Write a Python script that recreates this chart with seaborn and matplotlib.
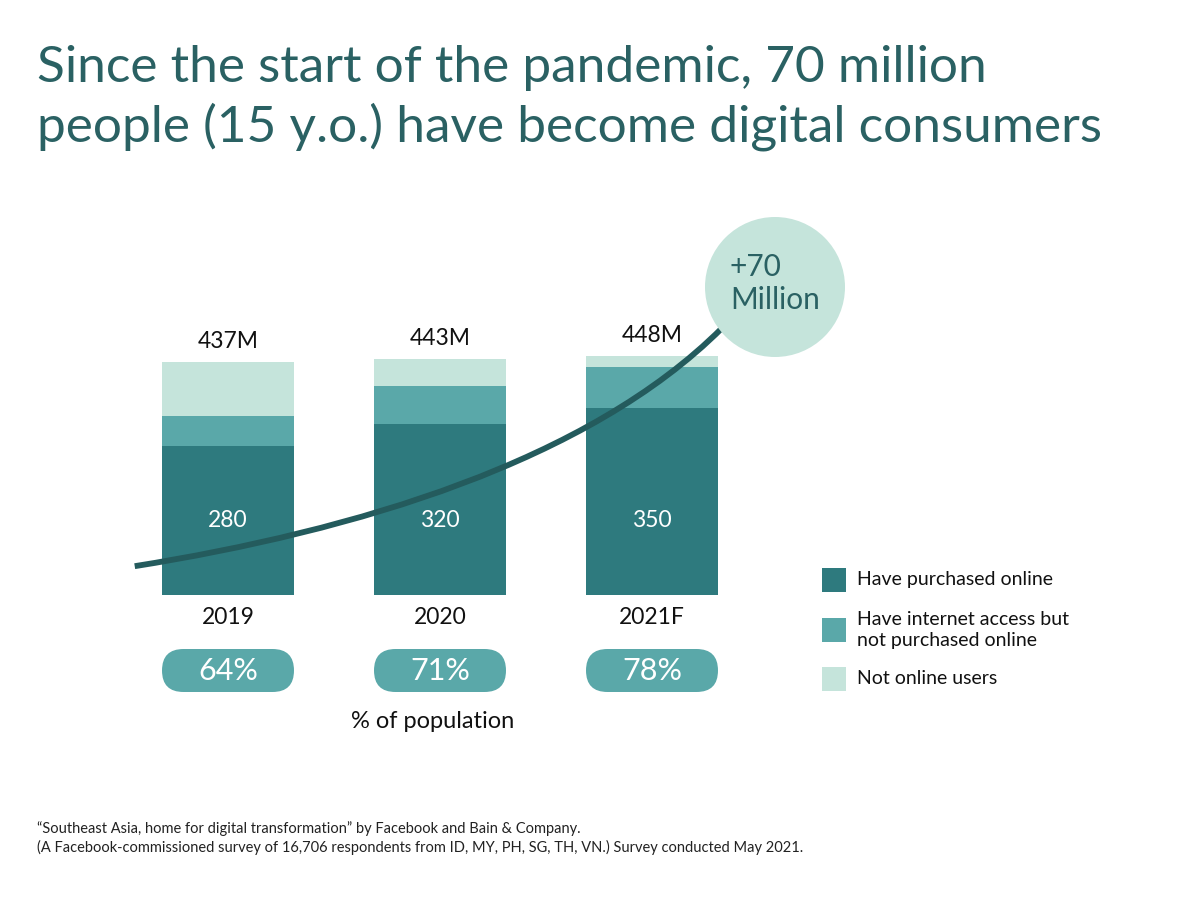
import numpy as np
import matplotlib
matplotlib.use("Agg")
import matplotlib.pyplot as plt
from matplotlib.patches import FancyBboxPatch, Circle, Rectangle, PathPatch
from matplotlib.path import Path
import seaborn as sns

# data (millions)
years = ["2019", "2020", "2021F"]
purchased = [280, 320, 350]
access_only = [56, 71, 77]
not_online = [101, 52, 21]
totals = [437, 443, 448]
share_pct = ["64%", "71%", "78%"]

# decorative growth curve as a cubic bezier (x in bar units, y in millions)
curve_ctrl = [(-0.44, 54), (0.6, 120), (1.7, 250), (2.33, 500)]

DARK = "#2e7a7e"
MID = "#5aa8a9"
LIGHT = "#c5e4db"
TITLE_C = "#2a6163"
LINE_C = "#245b5d"

sns.set_theme(style="white")
plt.rcParams["font.family"] = ["Lato", "DejaVu Sans"]

fig = plt.figure(figsize=(12, 9), dpi=100)
fig.patch.set_facecolor("white")

# main axes: baseline at y=595px, bar centres at 228/440/652 px
ax = fig.add_axes([100 / 1200, 1 - 595 / 900, 700 / 1200, 395 / 900])
ax.set_facecolor("none")

stack_mid = [p + a for p, a in zip(purchased, access_only)]
for vals, col in [(totals, LIGHT), (stack_mid, MID), (purchased, DARK)]:
    sns.barplot(x=years, y=vals, color=col, saturation=1, width=0.623, ax=ax,
                linewidth=0, edgecolor=col)

ax.set_xlim(-128 / 212, 572 / 212)
ax.set_ylim(0, 740)
ax.axis("off")

curve = Path(curve_ctrl, [Path.MOVETO, Path.CURVE4, Path.CURVE4, Path.CURVE4])
ax.add_patch(PathPatch(curve, facecolor="none", edgecolor=LINE_C, lw=4.2,
                       capstyle="butt", zorder=5))

for i, (tot, p) in enumerate(zip(totals, purchased)):
    ax.text(i, tot + 38, f"{tot}M", ha="center", va="center", fontsize=16.5, color="#111111")
    ax.text(i, 140, str(p), ha="center", va="center", fontsize=16.5, color="white", zorder=6)

# circle callout
inch = fig.dpi_scale_trans
fig.patches.append(Circle((7.75, 9 - 2.87), 0.70, transform=inch, facecolor=LIGHT,
                          edgecolor="none", zorder=10))
fig.text(730 / 1200, 1 - 267 / 900, "+70", fontsize=21.5, color=TITLE_C, va="center",
         ha="left", zorder=11)
fig.text(730 / 1200, 1 - 300 / 900, "Million", fontsize=21.5, color=TITLE_C, va="center",
         ha="left", zorder=11)

# year labels and pills
for i, (yr, pct) in enumerate(zip(years, share_pct)):
    cx = 228 + 212 * i
    fig.text(cx / 1200, 1 - 617 / 900, yr, ha="center", va="center", fontsize=16.5,
             color="#111111")
    fig.patches.append(FancyBboxPatch(((cx - 66) / 100, (900 - 692) / 100), 1.32, 0.43,
                                      boxstyle="round,pad=0,rounding_size=0.215",
                                      transform=inch, facecolor=MID, edgecolor="none"))
    fig.text(cx / 1200, 1 - 671 / 900, pct, ha="center", va="center", fontsize=22,
             color="white")

fig.text(433 / 1200, 1 - 721 / 900, "% of population", ha="center", va="center",
         fontsize=17, color="#111111")

# legend
legend_items = [("Have purchased online", DARK, 580),
                ("Have internet access but\nnot purchased online", MID, 630),
                ("Not online users", LIGHT, 679)]
for label, col, yc in legend_items:
    fig.patches.append(Rectangle((8.22, (900 - yc - 12) / 100), 0.24, 0.24,
                                 transform=inch, facecolor=col, edgecolor="none"))
    fig.text(857 / 1200, 1 - yc / 900, label, ha="left", va="center", fontsize=14,
             color="#111111", linespacing=1.3)

# title
fig.text(37 / 1200, 1 - 68 / 900, "Since the start of the pandemic, 70 million",
         ha="left", va="center", fontsize=37, color=TITLE_C)
fig.text(37 / 1200, 1 - 127 / 900, "people (15 y.o.) have become digital consumers",
         ha="left", va="center", fontsize=37, color=TITLE_C)

# source
fig.text(37 / 1200, 1 - 829 / 900,
         "\u201cSoutheast Asia, home for digital transformation\u201d by Facebook and Bain & Company.",
         ha="left", va="center", fontsize=10.5, color="#222222")
fig.text(37 / 1200, 1 - 847 / 900,
         "(A Facebook-commissioned survey of 16,706 respondents from ID, MY, PH, SG, TH, VN.) "
         "Survey conducted May 2021.",
         ha="left", va="center", fontsize=10.5, color="#222222")

fig.savefig("out.png", dpi=100, facecolor="white")
